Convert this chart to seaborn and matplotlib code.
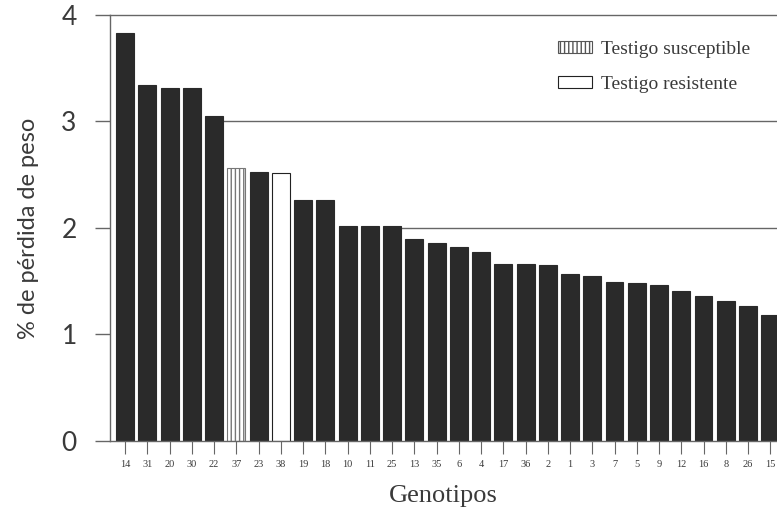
import matplotlib
matplotlib.use("Agg")
import matplotlib.pyplot as plt
from matplotlib.patches import Patch
import seaborn as sns
import pandas as pd

# data -------------------------------------------------------------------
genotipos = ["14", "31", "20", "30", "22", "37", "23", "38", "19", "18",
             "10", "11", "25", "13", "35", "6", "4", "17", "36", "2",
             "1", "3", "7", "5", "9", "12", "16", "8", "26", "15"]
perdida = [3.83, 3.34, 3.31, 3.31, 3.05, 2.56, 2.53, 2.52, 2.26, 2.26,
           2.02, 2.02, 2.02, 1.90, 1.86, 1.82, 1.77, 1.66, 1.66, 1.65,
           1.57, 1.55, 1.49, 1.48, 1.46, 1.41, 1.36, 1.31, 1.27, 1.18]
testigo_susceptible = "37"
testigo_resistente = "38"
y_ticks = [0, 1, 2, 3, 4]
grid_levels = [1, 2, 3]

df = pd.DataFrame({"Genotipo": genotipos, "Perdida": perdida})

sns.set_style("ticks")
plt.rcParams["font.family"] = ["Liberation Serif", "DejaVu Serif"]

INK = "#3a3a3a"
BAR = "#2a2a2a"
LINE = "#666666"

fig = plt.figure(figsize=(7.77, 5.09), dpi=100)
ax = fig.add_axes([0.1416, 0.1336, 0.8584, 0.8370])

sns.barplot(data=df, x="Genotipo", y="Perdida", order=genotipos,
            color=BAR, saturation=1, width=0.8, ax=ax, zorder=2)

for patch, g in zip(ax.patches, genotipos):
    patch.set_linewidth(0.8)
    if g == testigo_susceptible:
        patch.set_facecolor("white")
        patch.set_edgecolor("#777777")
        patch.set_hatch("||||")
    elif g == testigo_resistente:
        patch.set_facecolor("white")
        patch.set_edgecolor("#222222")
    else:
        patch.set_edgecolor(BAR)

# reference lines only show to the right of the taller bars
for lvl in grid_levels:
    taller = [i for i, v in enumerate(perdida) if v >= lvl]
    if taller and taller[-1] < len(perdida) - 1:
        ax.hlines(lvl, taller[-1] + 0.4, len(perdida), color=LINE, lw=1.0, zorder=1)

ax.set_xlim(-0.68, 29.3)
ax.set_ylim(0, 4)
ax.set_yticks(y_ticks)

for side in ["left", "bottom", "top"]:
    ax.spines[side].set_color(LINE)
    ax.spines[side].set_linewidth(1.0)
ax.spines["right"].set_visible(False)

ax.tick_params(axis="y", direction="out", length=11, width=1, color=LINE,
               pad=13, labelsize=19, labelcolor=INK)
ax.tick_params(axis="x", direction="out", length=9, width=0.8, color=LINE,
               pad=5, labelsize=7.5, labelcolor=INK)
for lab in ax.get_yticklabels():
    lab.set_family(["Lato", "DejaVu Sans"])

ax.set_ylabel("% de pérdida de peso", fontsize=17, color=INK, labelpad=16,
              family=["Lato", "DejaVu Sans"])
ax.set_xlabel("Genotipos", fontsize=19, color=INK, labelpad=11)

handles = [Patch(facecolor="white", edgecolor="#555555", hatch="||||", lw=0.8,
                 label="Testigo susceptible"),
           Patch(facecolor="white", edgecolor="#222222", lw=0.8,
                 label="Testigo resistente")]
leg = ax.legend(handles=handles, loc="upper left", bbox_to_anchor=(0.672, 0.94),
                frameon=False, fontsize=14, handlelength=1.75, handleheight=0.6,
                handletextpad=0.45, labelspacing=0.95, borderpad=0, borderaxespad=0)
for t in leg.get_texts():
    t.set_color(INK)

fig.savefig("out.png", dpi=100)
